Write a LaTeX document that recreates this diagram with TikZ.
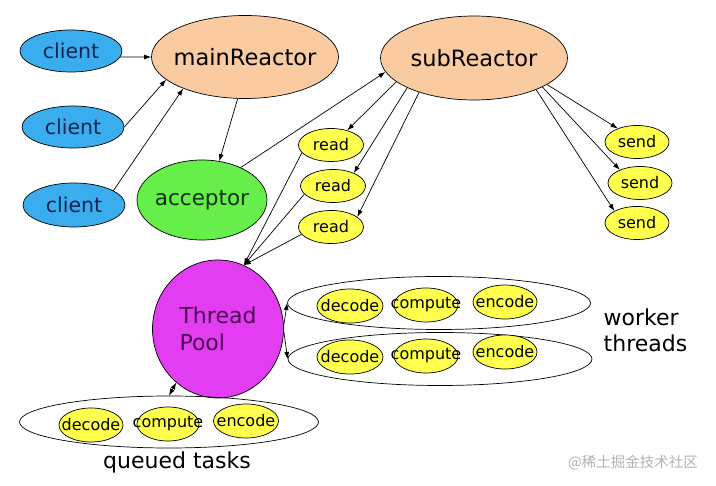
\documentclass[tikz,border=0pt]{standalone}
\usepackage{fontspec}
\setmainfont{DejaVu Sans}
\newfontfamily\cjkfont{Noto Sans CJK SC}
\usepackage{xcolor}
\usepackage{tikz}
\usetikzlibrary{arrows.meta,shapes.geometric}

\definecolor{clientblue}{HTML}{3AADEF}
\definecolor{clienttext}{HTML}{0D2350}
\definecolor{peach}{HTML}{FACBA0}
\definecolor{accgreen}{HTML}{66EE4A}
\definecolor{acctext}{HTML}{103010}
\definecolor{poolpink}{HTML}{E23DF0}
\definecolor{pooltext}{HTML}{4A0A50}
\definecolor{taskyellow}{HTML}{FFFF4D}

\begin{document}
\begin{tikzpicture}[x=1pt, y=-1pt, line width=0.7pt,
  >={Latex[length=7pt,width=5pt]},
  client/.style={ellipse, draw, fill=clientblue, minimum width=102pt, minimum height=42pt,
    text=clienttext, font=\fontsize{20.5}{24}\selectfont},
  reactor/.style={ellipse, draw, fill=peach, inner xsep=-10pt, minimum width=187pt,
    minimum height=83pt, font=\fontsize{22.5}{26}\selectfont},
  io/.style={ellipse, draw, fill=taskyellow, inner xsep=0pt, minimum width=65pt, minimum height=33pt,
    font=\fontsize{16}{19}\selectfont},
  task/.style={ellipse, draw, fill=taskyellow, inner xsep=-15pt, inner ysep=0pt,
    minimum width=64pt, minimum height=34pt, font=\fontsize{16}{19}\selectfont},
  group/.style={ellipse, draw, minimum width=303pt, minimum height=53pt},
  caption/.style={align=left, font=\fontsize{22}{26}\selectfont}]

\useasboundingbox (0,0) rectangle (716,486);

% clients and reactors
\node (client1) at (71,51) [client] {client};
\node (client2) at (73,127) [client] {client};
\node (client3) at (74,205) [client, minimum height=44pt] {client};
\node (main) at (245,57) [reactor] {mainReactor};
\node (acceptor) at (202,200) [ellipse, draw, fill=accgreen, inner xsep=-5pt, minimum width=130pt,
  minimum height=80pt, text=acctext, font=\fontsize{21.5}{26}\selectfont] {acceptor};
\node (sub) at (474,58) [reactor, minimum height=84pt] {subReactor};

% read / send
\node (read1) at (331,145) [io] {read};
\node (read2) at (333,186) [io] {read};
\node (read3) at (331,227) [io] {read};
\node (send1) at (637,142) [io, minimum width=64pt] {send};
\node (send2) at (640,183) [io, minimum width=64pt] {send};
\node (send3) at (637,223) [io, minimum width=64pt] {send};

% thread pool
\node (pool) at (218,329) [ellipse, draw, fill=poolpink, minimum width=131pt, minimum height=138pt,
  align=left, text=pooltext, font=\fontsize{22}{27}\selectfont] {Thread\\Pool};

\node (worker1) at (439,303) [group] {};
\node (worker2) at (440,359) [group, minimum width=304pt] {};
\node (queue) at (169,422) [group, minimum width=299pt, minimum height=52pt] {};

\node (dec1) at (350,306) [task, minimum width=66pt] {decode};
\node (com1) at (426,305) [task] {compute};
\node (enc1) at (505,302) [task] {encode};
\node (dec2) at (350,357) [task, minimum width=66pt] {decode};
\node (com2) at (426,356) [task] {compute};
\node (enc2) at (505,352) [task] {encode};
\node (dec3) at (91,425) [task] {decode};
\node (com3) at (168,424) [task, minimum width=62pt] {compute};
\node (enc3) at (246,421) [task, minimum width=65pt] {encode};

\node (workerlabel) at (600,330) [caption, anchor=west] {worker\\threads};
\node (queuelabel) at (177,462) [font=\fontsize{22}{26}\selectfont] {queued tasks};
\node (mark) at (633,463) [text=gray!60, font=\cjkfont\fontsize{14.5}{17}\selectfont] {@稀土掘金技术社区};

% connectors
\draw[->] (client1.-7) -- (main.west);
\draw[->] (client2.east) -- (main.196);
\draw[->] (client3.20) -- (main.207);
\draw[->] (main.260) -- (acceptor.66);
\draw[->] (acceptor.40) -- (sub.189);
\draw[->] (sub.197) -- (read1.42);
\draw[->] (sub.204) -- (read2.32);
\draw[->] (sub.212) -- (read3.21);
\draw[->] (sub.-20) -- (send1.145);
\draw[->] (sub.-23) -- (send2.147);
\draw[->] (sub.-27) -- (send3.152);
\draw[->] (read1.195) -- (pool.68);
\draw[->] (read2.196) -- (pool.68);
\draw[->] (read3.194) -- (pool.68);
\draw[->] (pool.3) -- (worker1.west);
\draw[->] (pool.-2) -- (worker2.west);
\draw[<->] (queue.north) -- (pool.-128);

\end{tikzpicture}
\end{document}
